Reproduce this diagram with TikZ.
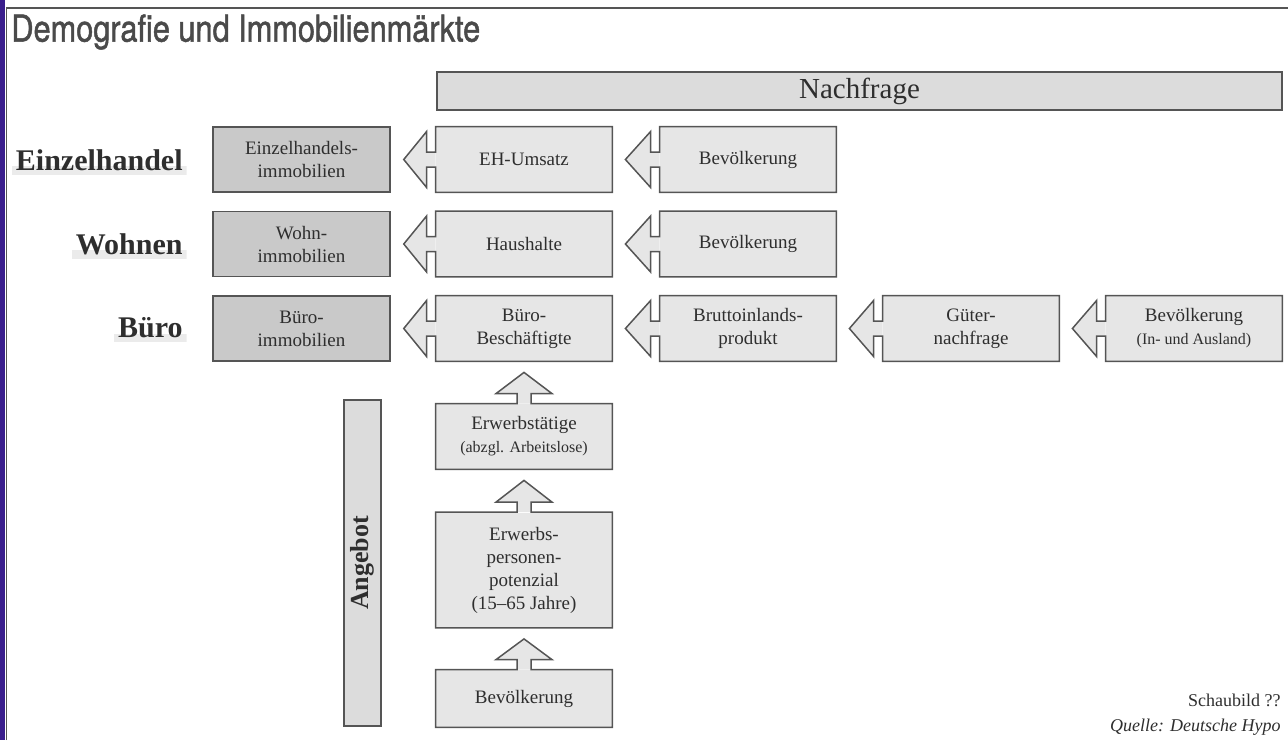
\documentclass[tikz,border=0pt]{standalone}
\usepackage{fontspec}
\setmainfont{Liberation Serif}
\newfontfamily\headfont[FakeStretch=0.83,FakeBold=1.3]{TeX Gyre Heros}
\usetikzlibrary{calc,positioning}
\definecolor{framec}{HTML}{3A1E8C}
\definecolor{linec}{HTML}{555555}
\definecolor{txtc}{HTML}{2E2E2E}
\definecolor{titlec}{HTML}{4A4A4A}
\definecolor{lightc}{HTML}{E6E6E6}
\definecolor{darkc}{HTML}{C9C9C9}
\definecolor{headc}{HTML}{DCDCDC}
\definecolor{shadec}{HTML}{EBEBEB}
\tikzset{
  lbox/.style={fill=lightc,minimum width=88pt,minimum height=32.5pt,inner sep=0pt,align=center,text=txtc,font=\fontsize{9.5}{11.5}\selectfont},
  dbox/.style={lbox,fill=darkc,draw=linec,line width=0.75pt,minimum width=88.5pt},
  outl/.style={draw=linec,line width=0.75pt},
  seg/.style={anchor=east,inner sep=2pt,text=txtc,font=\fontsize{15}{18}\selectfont\bfseries,
    path picture={\fill[shadec] (path picture bounding box.south west) rectangle ($(path picture bounding box.east)+(0,-3pt)$);}}
}
\newcommand{\leftblock}[2]{%
  \coordinate (tp) at ($(#2.east)+(6.5pt,0)$);
  \coordinate (hb) at ($(#1.west)+(-4.5pt,0)$);
  \fill[lightc] ($(#1.west)+(0,-3.75pt)$) -- ($(hb)+(0,-3.75pt)$) -- ($(hb)+(0,-14pt)$) -- (tp |- #1.west)
    -- ($(hb)+(0,14pt)$) -- ($(hb)+(0,3.75pt)$) -- ($(#1.west)+(0,3.75pt)$) -- cycle;
  \draw[outl] ($(#1.west)+(0,-3.75pt)$) -- ($(hb)+(0,-3.75pt)$) -- ($(hb)+(0,-14pt)$) -- (tp |- #1.west)
    -- ($(hb)+(0,14pt)$) -- ($(hb)+(0,3.75pt)$) -- ($(#1.west)+(0,3.75pt)$) |- (#1.north east) |- (#1.south west) -- cycle;
}
\newcommand{\upblock}[2]{%
  \coordinate (tp) at ($(#2.south)+(0,-5.5pt)$);
  \coordinate (hb) at ($(#1.north)+(0,5pt)$);
  \fill[lightc] ($(#1.north)+(3.5pt,0)$) -- ($(hb)+(3.5pt,0)$) -- ($(hb)+(14pt,0)$) -- (#1.north |- tp)
    -- ($(hb)+(-14pt,0)$) -- ($(hb)+(-3.5pt,0)$) -- ($(#1.north)+(-3.5pt,0)$) -- cycle;
  \draw[outl] ($(#1.north)+(3.5pt,0)$) -- ($(hb)+(3.5pt,0)$) -- ($(hb)+(14pt,0)$) -- (#1.north |- tp)
    -- ($(hb)+(-14pt,0)$) -- ($(hb)+(-3.5pt,0)$) -- ($(#1.north)+(-3.5pt,0)$) -- (#1.north west)
    -- (#1.south west) -- (#1.south east) -- (#1.north east) -- cycle;
}

\begin{document}
\begin{tikzpicture}[x=0.5pt,y=-0.5pt]
\useasboundingbox (0,0) rectangle (1288,740);
\fill[framec] (0,0) rectangle (5,740);
\draw[linec,line width=0.7pt] (6.5,740) -- (6.5,8) -- (1288,8);
\node[anchor=west,inner sep=0pt,text=titlec,font=\headfont\fontsize{18.5}{20}\selectfont] (titel) at (11,32) {Demografie und Immobilienmärkte};
\node[draw=linec,line width=1.2pt,fill=headc,minimum width=422.5pt,minimum height=19pt,inner sep=0pt,text=txtc,font=\fontsize{14.5}{17}\selectfont] (nach) at (859.5,91) {Nachfrage};

\foreach \n/\l/\y in {seh/Einzelhandel/160,swo/Wohnen/244,sbu/Büro/328}
  \node[seg] (\n) at (187,\y) {\l};

\node[dbox] (ehimmo) at (301.5,159.5) {Einzelhandels-\\immobilien};
\node[dbox] (wimmo) at (301.5,244) {Wohn-\\immobilien};
\node[dbox] (bimmo) at (301.5,328.5) {Büro-\\immobilien};

\node[lbox] (ehums) at (524,159.5) {EH-Umsatz};
\node[lbox] (bev1) at (748,159.5) {Bevölkerung};
\node[lbox] (hhalt) at (524,244) {Haushalte};
\node[lbox] (bev2) at (748,244) {Bevölkerung};
\node[lbox] (bbesch) at (524,328.5) {Büro-\\Beschäftigte};
\node[lbox] (bip) at (748,328.5) {Bruttoinlands-\\produkt};
\node[lbox] (gnach) at (971,328.5) {Güter-\\nachfrage};
\node[lbox] (bevwelt) at (1194,328.5) {Bevölkerung\\{\fontsize{8}{10}\selectfont(In- und Ausland)}};

\node[lbox] (etaet) at (524,436.5) {Erwerbstätige\\{\fontsize{8}{10}\selectfont(abzgl. Arbeitslose)}};
\node[lbox,minimum height=57.5pt] (epot) at (524,570) {Erwerbs-\\personen-\\potenzial\\(15–65 Jahre)};
\node[lbox,minimum height=28.5pt] (bev3) at (524,698.5) {Bevölkerung};
\node[draw=linec,line width=0.75pt,fill=headc,rotate=90,minimum width=163pt,minimum height=18.5pt,inner sep=0pt,text=txtc,font=\fontsize{13}{15}\selectfont\bfseries] (angebot) at (362.5,563) {Angebot};

\foreach \s/\t in {ehums/ehimmo,bev1/ehums,hhalt/wimmo,bev2/hhalt,bbesch/bimmo,bip/bbesch,gnach/bip,bevwelt/gnach}
  \leftblock{\s}{\t};
\foreach \s/\t in {etaet/bbesch,epot/etaet,bev3/epot}
  \upblock{\s}{\t};

\node[anchor=east,inner sep=0pt,text=txtc,font=\fontsize{9}{11}\selectfont] (schau) at (1281,700) {Schaubild ??};
\node[anchor=east,inner sep=0pt,text=txtc,font=\fontsize{9}{11}\selectfont\itshape] (quelle) at (1281,727) {Quelle: Deutsche Hypo};
\end{tikzpicture}
\end{document}
